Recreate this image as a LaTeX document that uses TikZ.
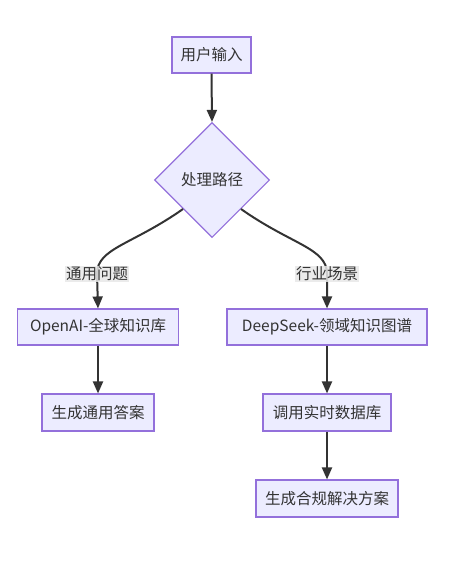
\documentclass[tikz,border=0pt]{standalone}
\usepackage{fontspec}
\setmainfont{Noto Sans CJK SC}
\usetikzlibrary{shapes.geometric,arrows.meta}
\definecolor{nodefill}{HTML}{ECECFF}
\definecolor{nodeline}{HTML}{9370DB}
\definecolor{txt}{HTML}{333333}
\definecolor{edge}{HTML}{333333}
\definecolor{lblbg}{HTML}{E8E8E8}
\tikzset{
  base/.style={fill=nodefill, draw=nodeline, line width=1.1bp, text=txt, inner sep=0pt, font=\fontsize{15.5bp}{18bp}\selectfont},
  box/.style={base, rectangle, minimum height=36bp},
  decision/.style={base, diamond, minimum width=115bp, minimum height=115bp},
  conn/.style={draw=edge, line width=2bp, -{Triangle[length=12bp,width=10bp]}},
  lbl/.style={fill=lblbg, fill opacity=0.85, text opacity=1, text=txt, inner sep=1bp, font=\fontsize{15.5bp}{18bp}\selectfont}
}
\begin{document}
\begin{tikzpicture}[x=1bp,y=-1bp]
\useasboundingbox (0,0) rectangle (464,577);
\node[box, minimum width=79bp] (u) at (211.5,55) {用户输入};
\node[decision] (d) at (212,180) {处理路径};
\node[box, minimum width=161bp] (oa) at (98,327) {OpenAI-全球知识库};
\node[box, minimum width=200bp] (ds) at (327,327) {DeepSeek-领域知识图谱};
\node[box, minimum width=112bp, minimum height=37bp] (ga) at (98,412.5) {生成通用答案};
\node[box, minimum width=128bp, minimum height=37bp] (rt) at (327,412.5) {调用实时数据库};
\node[box, minimum width=142bp, minimum height=37bp] (gc) at (327,498.5) {生成合规解决方案};
\coordinate (c1) at (97,274);
\coordinate (c2) at (327,274);
\draw[conn] (u.south) -- (d.north);
\draw[conn] (d.south west) .. controls (132,245) and (97,248) .. (c1) -- (oa.north);
\draw[conn] (d.south east) .. controls (292,245) and (327,248) .. (c2) -- (ds.north);
\draw[conn] (oa.south) -- (ga.north);
\draw[conn] (ds.south) -- (rt.north);
\draw[conn] (rt.south) -- (gc.north);
\node[lbl] (l1) at (c1) {通用问题};
\node[lbl] (l2) at (c2) {行业场景};
\end{tikzpicture}
\end{document}
